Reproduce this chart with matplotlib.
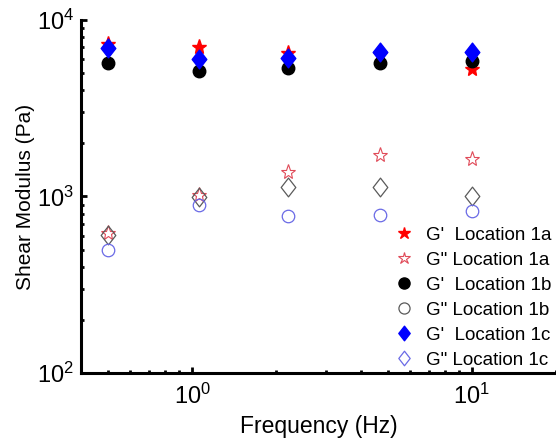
import matplotlib
matplotlib.use("Agg")
import matplotlib.pyplot as plt
from matplotlib.lines import Line2D
from matplotlib.path import Path

plt.rcParams['font.family'] = ['Liberation Sans', 'DejaVu Sans']

# frequency sweep (Hz)
freq = [0.5, 1.06, 2.2, 4.7, 10]

# storage / loss moduli (Pa) at each location
g1_1a = [7300, 7050, 6500, 6400, 5270]
g2_1a = [620, 1020, 1380, 1720, 1630]
g1_1b = [5700, 5140, 5350, 5700, 5870]
g2_1b = [605, 995, 1135, 1135, 1010]
g1_1c = [6900, 6000, 6100, 6550, 6600]
g2_1c = [498, 895, 776, 786, 830]

labels = ["G'  Location 1a", 'G" Location 1a', "G'  Location 1b",
          'G" Location 1b', "G'  Location 1c", 'G" Location 1c']

red_lt = '#e04a58'
grey = '#5a5a5a'
blue_lt = '#6a6ae6'

# slightly wider diamond than the built-in 'd'
diamond = Path([(0, 1), (0.78, 0), (0, -1), (-0.78, 0), (0, 1)],
               [Path.MOVETO, Path.LINETO, Path.LINETO, Path.LINETO, Path.CLOSEPOLY])

fig = plt.figure(figsize=(5.56, 4.45), dpi=100)
ax = fig.add_axes([0.1457, 0.1618, 0.8543, 0.7933])

ax.plot(freq, g1_1a, ls='none', marker='*', ms=11, color='red', mec='red')
ax.plot(freq, g2_1a, ls='none', marker='*', ms=11, mfc='none', mec=red_lt, mew=0.8)
ax.plot(freq, g1_1b, ls='none', marker='o', ms=9, color='black')
ax.plot(freq, g2_1b, ls='none', marker=diamond, ms=13.5, mfc='none', mec=grey, mew=0.9)
ax.plot(freq, g1_1c, ls='none', marker=diamond, ms=13.5, color='blue')
ax.plot(freq, g2_1c, ls='none', marker='o', ms=9, mfc='none', mec=blue_lt, mew=0.9)

ax.set_xscale('log')
ax.set_yscale('log')
ax.set_xlim(0.4, 20)
ax.set_ylim(100, 10000)

for s in ['top', 'right']:
    ax.spines[s].set_visible(False)
for s in ['left', 'bottom']:
    ax.spines[s].set_linewidth(2.2)

ax.tick_params(which='major', direction='in', length=4, width=2, labelsize=17)
ax.tick_params(axis='x', which='major', pad=8)
ax.tick_params(axis='y', which='major', pad=5)
ax.tick_params(which='minor', direction='in', length=2.5, width=2)

ax.set_xlabel('Frequency (Hz)', fontsize=16.5, labelpad=4)
ax.set_ylabel('Shear Modulus (Pa)', fontsize=15, labelpad=1)

# legend glyphs
handles = [
    Line2D([], [], ls='none', marker='*', ms=9, color='red'),
    Line2D([], [], ls='none', marker='*', ms=9, mfc='none', mec=red_lt, mew=0.8),
    Line2D([], [], ls='none', marker='o', ms=8, color='black'),
    Line2D([], [], ls='none', marker='o', ms=8, mfc='none', mec=grey, mew=0.9),
    Line2D([], [], ls='none', marker=diamond, ms=10.5, color='blue'),
    Line2D([], [], ls='none', marker=diamond, ms=10.5, mfc='none', mec=blue_lt, mew=0.9),
]
ax.legend(handles, labels, loc='lower right', bbox_to_anchor=(1.015, -0.02),
          frameon=False, fontsize=13.5, handlelength=1.0, handletextpad=0.7,
          labelspacing=0.42, borderaxespad=0.2)

fig.savefig('out.png', dpi=100)
